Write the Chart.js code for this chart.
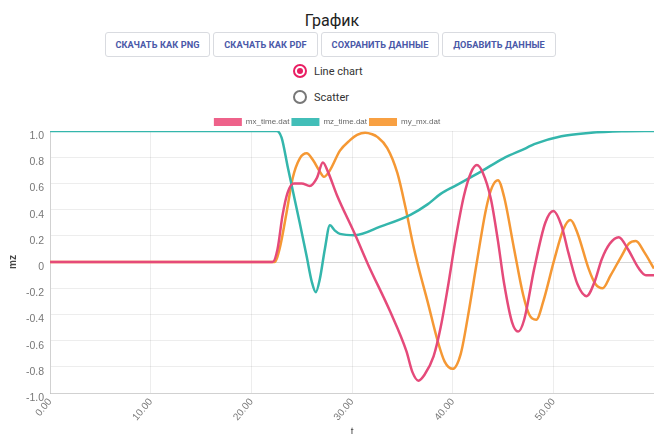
<!DOCTYPE html>
<html lang="ru">
<head>
<meta charset="utf-8">
<title>График</title>
<script src="https://cdn.jsdelivr.net/npm/chart.js@4.4.1/dist/chart.umd.min.js"></script>
<style>
  html, body { margin: 0; padding: 0; background: #fff; width: 654px; height: 434px; overflow: hidden; font-family: Roboto, "Liberation Sans", Arial, sans-serif; }
  .title { position: absolute; left: 0; width: 664px; top: 11px; text-align: center; font-size: 16px; color: #222; }
  .btns { position: absolute; top: 32px; left: 105px; display: flex; gap: 3px; }
  .btn { height: 25px; box-sizing: border-box; border: 1px solid #d9dbe0; border-radius: 3px; background: #fff;
         color: #4a58a8; font-family: Roboto, sans-serif; font-weight: 700; font-size: 9.2px; letter-spacing: 0.1px;
         display: flex; align-items: center; justify-content: center; }
  .radio { position: absolute; left: 293px; display: flex; align-items: center; font-size: 11px; color: #333; }
  .dot { width: 14px; height: 14px; box-sizing: border-box; border-radius: 50%; border: 2px solid #777; margin-right: 7px; position: relative; }
  .dot.on { border-color: #e91e63; }
  .dot.on::after { content: ""; position: absolute; left: 2px; top: 2px; width: 6px; height: 6px; border-radius: 50%; background: #e91e63; }
  #chart { position: absolute; left: 0; top: 116px; }
</style>
</head>
<body>
<div class="title">График</div>
<div class="btns">
  <div class="btn" style="width:105px">СКАЧАТЬ КАК PNG</div>
  <div class="btn" style="width:105px">СКАЧАТЬ КАК PDF</div>
  <div class="btn" style="width:118px">СОХРАНИТЬ ДАННЫЕ</div>
  <div class="btn" style="width:114px">ДОБАВИТЬ ДАННЫЕ</div>
</div>
<div class="radio" style="top:64px"><span class="dot on"></span>Line chart</div>
<div class="radio" style="top:90px"><span class="dot"></span>Scatter</div>
<canvas id="chart" width="654" height="322"></canvas>
<script>
// mx_time.dat
const mxT = [0, 22.1, 22.6, 23.1, 23.6, 24.2, 25.0, 25.8, 26.5, 27.1, 27.6, 28.5, 30.3, 31.6, 33.8, 35.4, 36.0, 36.6, 37.2, 38.1, 38.8, 39.5, 40.3, 41.1, 41.8, 42.4, 43.0, 43.8, 44.5, 45.1, 45.9, 46.5, 47.1, 48.1, 49.2, 50.0, 50.8, 51.5, 52.4, 53.3, 54.1, 54.8, 55.6, 56.5, 57.4, 58.5, 59.2, 60];
const mxV = [0, 0, 0.10, 0.36, 0.53, 0.60, 0.60, 0.58, 0.64, 0.76, 0.69, 0.51, 0.21, -0.02, -0.38, -0.68, -0.84, -0.905, -0.86, -0.72, -0.5, -0.2, 0.18, 0.5, 0.68, 0.74, 0.68, 0.48, 0.16, -0.16, -0.46, -0.53, -0.44, -0.05, 0.3, 0.39, 0.28, 0.07, -0.17, -0.26, -0.15, 0.02, 0.14, 0.19, 0.1, -0.05, -0.1, -0.1];

// mz_time.dat
const mzT = [0, 22.5, 23.0, 23.6, 24.1, 24.8, 25.5, 26.0, 26.4, 26.8, 27.3, 27.8, 28.3, 28.8, 30.3, 32.8, 35.8, 37.5, 38.8, 40.2, 42.8, 45.0, 47.3, 48.1, 50.8, 53.5, 56.8, 60];
const mzV = [1, 1, 0.95, 0.73, 0.55, 0.3, 0.04, -0.15, -0.23, -0.13, 0.1, 0.28, 0.24, 0.215, 0.205, 0.27, 0.36, 0.44, 0.52, 0.58, 0.69, 0.79, 0.87, 0.9, 0.96, 0.985, 0.998, 1.0];

// my_mx.dat
const myT = [0, 22.3, 22.8, 23.5, 24.1, 24.8, 25.5, 26.1, 26.8, 27.2, 27.8, 28.8, 29.8, 30.5, 31.3, 32.0, 32.5, 33.5, 34.5, 35.3, 36.1, 36.6, 37.5, 38.5, 39.2, 40.0, 40.8, 41.5, 42.4, 43.3, 43.9, 44.5, 45.1, 46.1, 47.0, 47.6, 48.3, 49.0, 50.1, 51.0, 51.7, 52.4, 53.5, 54.2, 54.9, 55.7, 56.8, 57.5, 58.2, 59.0, 60];
const myV = [0, 0, 0.10, 0.38, 0.64, 0.79, 0.83, 0.78, 0.69, 0.65, 0.70, 0.85, 0.93, 0.97, 0.987, 0.975, 0.955, 0.87, 0.68, 0.42, 0.12, -0.04, -0.3, -0.6, -0.76, -0.815, -0.7, -0.42, 0.0, 0.4, 0.57, 0.625, 0.5, 0.1, -0.25, -0.4, -0.44, -0.3, 0.02, 0.25, 0.32, 0.22, -0.05, -0.17, -0.2, -0.1, 0.05, 0.14, 0.16, 0.08, -0.05];

const seriesNames = ['mx_time.dat', 'mz_time.dat', 'my_mx.dat'];
const lineColors = ['rgb(229,74,122)', 'rgb(52,182,172)', 'rgb(245,152,52)'];
const fillColors = ['rgb(238,98,138)', 'rgb(66,190,184)', 'rgb(248,160,66)'];

const toPoints = (ts, vs) => ts.map((t, i) => ({ x: t, y: vs[i] }));
const series = [toPoints(mxT, mxV), toPoints(mzT, mzV), toPoints(myT, myV)];

// Tighter legend block: drop part of the fixed gap Chart.js adds under the legend row
const compactLegend = {
  id: 'compactLegend',
  beforeLayout(chart) {
    const legend = chart.legend;
    if (legend && !legend._compact) {
      const fit = legend.fit;
      legend.fit = function () { fit.call(this); this.height -= 5; };
      legend._compact = true;
    }
  }
};

new Chart(document.getElementById('chart'), {
  type: 'line',
  data: {
    datasets: series.map((pts, i) => ({
      label: seriesNames[i],
      data: pts,
      borderColor: lineColors[i],
      backgroundColor: fillColors[i],
      borderWidth: 2.5,
      pointRadius: 0,
      fill: false,
      cubicInterpolationMode: 'monotone'
    }))
  },
  plugins: [compactLegend],
  options: {
    responsive: false,
    devicePixelRatio: 1,
    animation: false,
    layout: { padding: 0 },
    plugins: {
      tooltip: { enabled: false },
      legend: {
        position: 'top',
        labels: {
          boxWidth: 28,
          boxHeight: 8,
          padding: 2,
          color: '#666',
          font: { size: 8 },
          generateLabels: (chart) =>
            Chart.defaults.plugins.legend.labels.generateLabels(chart).map(item => ({ ...item, lineWidth: 0 }))
        }
      }
    },
    scales: {
      x: {
        type: 'linear',
        min: 0,
        max: 60,
        afterBuildTicks: (scale) => { scale.ticks = scale.ticks.filter(t => t.value <= 50); },
        grid: { color: 'rgba(0,0,0,0.07)', drawTicks: false },
        border: { color: 'rgba(0,0,0,0.12)' },
        ticks: {
          stepSize: 10,
          minRotation: 50,
          maxRotation: 50,
          padding: 3,
          color: '#777',
          font: { size: 10 },
          callback: (v) => Number(v).toFixed(2)
        },
        title: { display: true, text: 't', color: '#444', font: { size: 10 }, padding: { top: 0, bottom: 0 } }
      },
      y: {
        min: -1,
        max: 1,
        grid: {
          drawTicks: false,
          color: (ctx) => (ctx.tick && Math.abs(ctx.tick.value) < 1e-9) ? 'rgba(0,0,0,0.16)' : 'rgba(0,0,0,0.07)'
        },
        border: { color: 'rgba(0,0,0,0.12)' },
        ticks: {
          stepSize: 0.2,
          labelOffset: 5,
          padding: 6,
          color: '#777',
          font: { size: 10.5 },
          callback: (v) => {
            const r = Math.round(v * 10) / 10;
            return r === 0 ? '0' : r.toFixed(1);
          }
        },
        title: { display: true, text: 'mz', color: '#444', font: { size: 10, weight: 'bold' }, padding: { top: 7, bottom: 1 } }
      }
    }
  }
});
</script>
</body>
</html>
